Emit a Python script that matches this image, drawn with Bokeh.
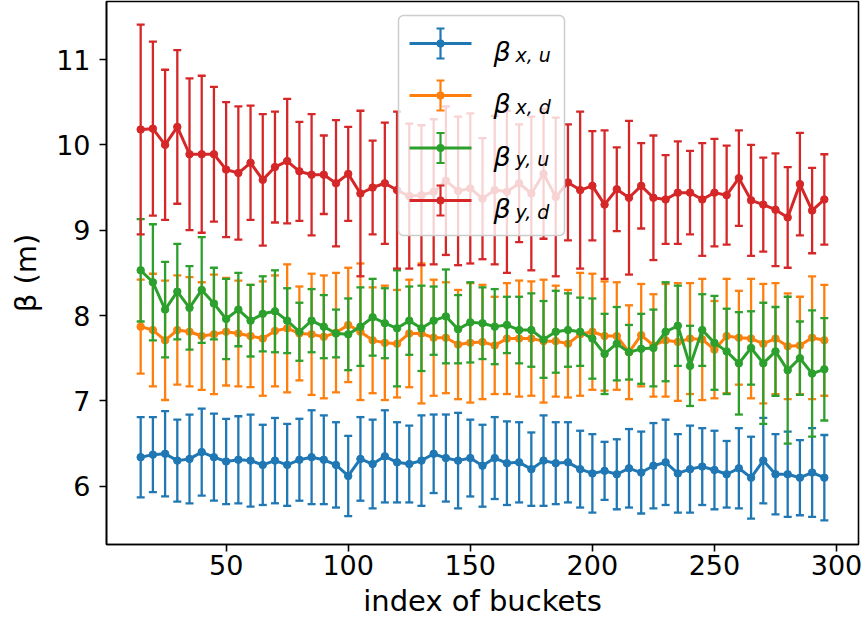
from bokeh.plotting import figure
from bokeh.models import Range1d, FixedTicker, BoxAnnotation, Label, ColumnDataSource
from bokeh.embed import file_html
from bokeh.resources import INLINE

# ---------------- data ----------------
bucket = [15, 20, 25, 30, 35, 40, 45, 50, 55, 60,
          65, 70, 75, 80, 85, 90, 95, 100, 105, 110,
          115, 120, 125, 130, 135, 140, 145, 150, 155, 160,
          165, 170, 175, 180, 185, 190, 195, 200, 205, 210,
          215, 220, 225, 230, 235, 240, 245, 250, 255, 260,
          265, 270, 275, 280, 285, 290, 295]

beta_xu = [6.34, 6.37, 6.38, 6.30, 6.32, 6.40, 6.34, 6.29, 6.31, 6.30,
           6.25, 6.30, 6.25, 6.31, 6.34, 6.31, 6.25, 6.12, 6.32, 6.26,
           6.35, 6.28, 6.26, 6.30, 6.38, 6.33, 6.30, 6.33, 6.24, 6.33,
           6.27, 6.28, 6.20, 6.30, 6.27, 6.28, 6.20, 6.15, 6.18, 6.14,
           6.21, 6.16, 6.24, 6.28, 6.15, 6.20, 6.23, 6.19, 6.14, 6.21,
           6.10, 6.30, 6.14, 6.14, 6.10, 6.16, 6.10]
err_xu = [0.47, 0.44, 0.50, 0.48, 0.52, 0.51, 0.51, 0.50, 0.51, 0.54,
          0.47, 0.50, 0.48, 0.48, 0.55, 0.52, 0.50, 0.47, 0.49, 0.52,
          0.54, 0.47, 0.45, 0.53, 0.46, 0.51, 0.56, 0.45, 0.48, 0.48,
          0.49, 0.47, 0.43, 0.53, 0.48, 0.47, 0.45, 0.46, 0.34, 0.41,
          0.46, 0.48, 0.50, 0.50, 0.46, 0.51, 0.45, 0.46, 0.39, 0.47,
          0.48, 0.50, 0.47, 0.50, 0.44, 0.52, 0.50]

beta_xd = [7.87, 7.83, 7.71, 7.83, 7.81, 7.76, 7.78, 7.81, 7.79, 7.76,
           7.73, 7.82, 7.85, 7.79, 7.78, 7.75, 7.80, 7.89, 7.81, 7.71,
           7.68, 7.67, 7.79, 7.79, 7.74, 7.74, 7.66, 7.68, 7.69, 7.65,
           7.73, 7.73, 7.73, 7.70, 7.70, 7.67, 7.78, 7.81, 7.76, 7.76,
           7.57, 7.77, 7.65, 7.71, 7.69, 7.73, 7.72, 7.60, 7.76, 7.74,
           7.73, 7.67, 7.73, 7.64, 7.65, 7.74, 7.71]
err_xd = [0.55, 0.66, 0.70, 0.64, 0.64, 0.63, 0.70, 0.63, 0.62, 0.60,
          0.67, 0.65, 0.75, 0.55, 0.71, 0.72, 0.70, 0.67, 0.80, 0.62,
          0.67, 0.63, 0.63, 0.82, 0.68, 0.65, 0.64, 0.70, 0.67, 0.57,
          0.65, 0.68, 0.67, 0.72, 0.65, 0.63, 0.72, 0.68, 0.64, 0.63,
          0.55, 0.60, 0.60, 0.66, 0.69, 0.65, 0.71, 0.57, 0.67, 0.55,
          0.70, 0.70, 0.65, 0.62, 0.57, 0.72, 0.65]

beta_yu = [8.53, 8.39, 8.07, 8.28, 8.09, 8.30, 8.14, 7.96, 8.07, 7.94,
           8.02, 8.05, 7.94, 7.81, 7.94, 7.87, 7.79, 7.78, 7.87, 7.98,
           7.91, 7.85, 7.94, 7.85, 7.94, 7.99, 7.84, 7.92, 7.91, 7.87,
           7.89, 7.83, 7.83, 7.72, 7.81, 7.83, 7.81, 7.73, 7.55, 7.67,
           7.57, 7.61, 7.62, 7.81, 7.88, 7.41, 7.83, 7.68, 7.58, 7.44,
           7.62, 7.44, 7.58, 7.36, 7.50, 7.32, 7.37]
err_yu = [0.60, 0.68, 0.56, 0.56, 0.49, 0.62, 0.42, 0.47, 0.43, 0.42,
          0.44, 0.48, 0.38, 0.34, 0.37, 0.37, 0.28, 0.42, 0.46, 0.45,
          0.41, 0.68, 0.40, 0.50, 0.40, 0.55, 0.40, 0.47, 0.42, 0.44,
          0.33, 0.39, 0.43, 0.45, 0.48, 0.43, 0.40, 0.47, 0.47, 0.43,
          0.32, 0.41, 0.45, 0.58, 0.47, 0.47, 0.42, 0.55, 0.50, 0.60,
          0.43, 0.71, 0.52, 0.86, 0.43, 0.74, 0.60]

beta_yd = [10.18, 10.19, 10.00, 10.21, 9.89, 9.89, 9.89, 9.71, 9.67, 9.79,
           9.59, 9.74, 9.81, 9.69, 9.65, 9.65, 9.55, 9.66, 9.43, 9.50,
           9.55, 9.47, 9.40, 9.41, 9.45, 9.58, 9.46, 9.49, 9.37, 9.47,
           9.45, 9.55, 9.43, 9.66, 9.39, 9.56, 9.47, 9.52, 9.30, 9.48,
           9.38, 9.52, 9.38, 9.36, 9.44, 9.44, 9.36, 9.44, 9.41, 9.61,
           9.35, 9.30, 9.24, 9.15, 9.54, 9.23, 9.36]
err_yd = [1.23, 1.02, 0.88, 0.90, 0.89, 0.92, 0.79, 0.79, 0.78, 0.67,
          0.77, 0.65, 0.73, 0.58, 0.71, 0.46, 0.74, 0.55, 0.97, 0.55,
          0.71, 0.92, 0.85, 0.82, 0.85, 0.87, 0.87, 0.88, 0.71, 0.87,
          0.95, 0.69, 0.90, 0.76, 0.93, 0.68, 0.92, 0.64, 0.87, 0.49,
          0.90, 0.50, 0.73, 0.52, 0.60, 0.49, 0.66, 0.63, 0.58, 0.56,
          0.65, 0.55, 0.66, 0.59, 0.60, 0.50, 0.53]

series_names = ["β", "β", "β", "β"]
series_subs = ["x, u", "x, d", "y, u", "y, d"]
series_colors = ["#1f77b4", "#ff7f0e", "#2ca02c", "#d62728"]
x_ticks = [50, 100, 150, 200, 250, 300]
y_ticks = [6, 7, 8, 9, 10, 11]

# ---------------- figure ----------------
FRAME_L, FRAME_B = 106, 544  # frame left / bottom in page pixels

p = figure(width=867, height=628, output_backend="svg", toolbar_location=None,
           x_range=Range1d(1, 309), y_range=Range1d(5.317, 11.68),
           min_border_left=106, min_border_right=9, min_border_top=1,
           min_border_bottom=84, background_fill_color="white",
           border_fill_color="white")

p.xgrid.visible = False
p.ygrid.visible = False
p.outline_line_color = "black"
p.outline_line_width = 1.6

for ax in (p.xaxis[0], p.yaxis[0]):
    ax.axis_line_width = 1.6
    ax.axis_line_color = "black"
    ax.major_tick_out = 7
    ax.major_tick_in = 0
    ax.minor_tick_out = 0
    ax.minor_tick_in = 0
    ax.major_tick_line_width = 1.6
    ax.major_label_text_font = "DejaVu Sans"
    ax.major_label_text_font_size = "27px"
    ax.major_label_text_color = "black"
    ax.axis_label_text_font = "DejaVu Sans"
    ax.axis_label_text_font_size = "29px"
    ax.axis_label_text_font_style = "normal"
    ax.axis_label_text_color = "black"

p.xaxis.ticker = FixedTicker(ticks=x_ticks)
p.yaxis.ticker = FixedTicker(ticks=y_ticks)
p.xaxis.axis_label = "index of buckets"
p.yaxis.axis_label = "β (m)"
p.xaxis.major_label_standoff = 3
p.xaxis.axis_label_standoff = 6
p.yaxis.major_label_standoff = 9
p.yaxis.axis_label_standoff = 10

all_y = [beta_xu, beta_xd, beta_yu, beta_yd]
all_e = [err_xu, err_xd, err_yu, err_yd]

for yv, ev, col in zip(all_y, all_e, series_colors):
    src = ColumnDataSource(dict(
        x=bucket, y=yv,
        lo=[a - b for a, b in zip(yv, ev)],
        hi=[a + b for a, b in zip(yv, ev)],
    ))
    p.segment(x0="x", y0="lo", x1="x", y1="hi", source=src,
              line_color=col, line_width=2.3)
    p.scatter(x="x", y="lo", source=src, marker="dash", size=8,
              line_color=col, line_width=2.3)
    p.scatter(x="x", y="hi", source=src, marker="dash", size=8,
              line_color=col, line_width=2.3)
    p.line(x="x", y="y", source=src, line_color=col, line_width=3)
    p.scatter(x="x", y="y", source=src, marker="circle", size=7.5,
              fill_color=col, line_color=col)

# ---------------- legend (drawn in screen units) ----------------
def sx(px):
    return px - FRAME_L

def sy(py):
    return FRAME_B - py

def box(l, r, t, b, color, alpha=1.0, radius=0, line=None, lw=0):
    return BoxAnnotation(left=sx(l), right=sx(r), top=sy(t), bottom=sy(b),
                         left_units="screen", right_units="screen",
                         top_units="screen", bottom_units="screen",
                         fill_color=color, fill_alpha=alpha,
                         line_color=line, line_width=lw, line_alpha=1.0,
                         border_radius=radius)

p.add_layout(box(398, 564, 15, 235, "white", alpha=0.8, radius=5,
                 line="#cccccc", lw=1.5))

row_centers = [43, 95, 147.5, 200]
for yc, col, nm, sub in zip(row_centers, series_colors, series_names, series_subs):
    p.add_layout(box(409, 471, yc - 1.5, yc + 1.5, col))          # line
    p.add_layout(box(438.9, 441.1, yc - 15, yc + 15, col))        # error bar
    p.add_layout(box(436, 444, yc - 16.1, yc - 13.9, col))        # top cap
    p.add_layout(box(436, 444, yc + 13.9, yc + 16.1, col))        # bottom cap
    p.add_layout(box(436, 444, yc - 4, yc + 4, col, radius=4))    # dot
    p.add_layout(Label(x=sx(493), y=sy(yc + 8), x_units="screen", y_units="screen",
                       text=nm, text_font="DejaVu Sans", text_font_style="italic",
                       text_font_size="27px", text_color="black",
                       text_baseline="alphabetic", text_align="left"))
    p.add_layout(Label(x=sx(515), y=sy(yc + 11), x_units="screen", y_units="screen",
                       text=sub, text_font="DejaVu Sans", text_font_style="italic",
                       text_font_size="19px", text_color="black",
                       text_baseline="alphabetic", text_align="left"))

open("out.html", "w").write(file_html(p, INLINE))
